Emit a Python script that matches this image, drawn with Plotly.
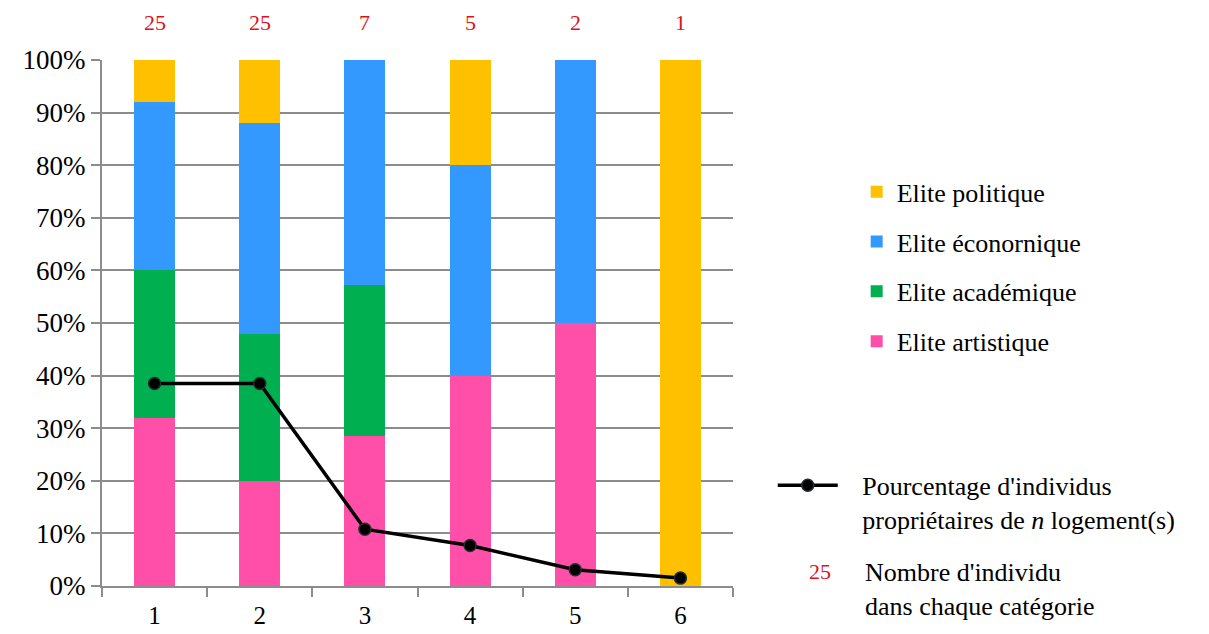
import plotly.graph_objects as go

categories = ["1", "2", "3", "4", "5", "6"]
counts = [25, 25, 7, 5, 2, 1]

artistique = [32, 20, 28.6, 40, 50, 0]
academique = [28, 28, 28.6, 0, 0, 0]
economique = [32, 40, 42.8, 40, 50, 0]
politique = [8, 12, 0, 20, 0, 100]

pct_proprietaires = [38.5, 38.5, 10.8, 7.7, 3.1, 1.5]

FONT = "Liberation Serif"
GRID = "#8c8c8c"

fig = go.Figure()

series = [
    ("Elite artistique", artistique, "#FF4FA8", 4),
    ("Elite académique", academique, "#00B050", 3),
    ("Elite éconornique", economique, "#3399FF", 2),
    ("Elite politique", politique, "#FFC000", 1),
]
for name, vals, color, rank in series:
    fig.add_trace(go.Bar(x=categories, y=vals, name=name, marker=dict(color=color, line=dict(width=0)),
                         width=0.39, legendgroup=name, legendrank=rank, legend="legend"))

pad = "&nbsp;" * 3
fig.add_trace(go.Scatter(x=categories, y=pct_proprietaires, mode="lines+markers",
                         name=pad + "Pourcentage d'individus<br>" + pad + "propriétaires de <i>n</i> logement(s)",
                         line=dict(color="black", width=3.5),
                         marker=dict(color="black", size=12, line=dict(color="#203030", width=1.5)),
                         legend="legend2"))

# sample size above each bar
for i, n in enumerate(counts):
    fig.add_annotation(x=i, y=1, xref="x", yref="paper", yanchor="middle", yshift=38,
                       text=str(n), showarrow=False, font=dict(family=FONT, size=22, color="#E0101A"))

fig.add_annotation(x=1.117, y=0.027, xref="paper", yref="paper", xanchor="left", yanchor="middle",
                   text="25", showarrow=False, font=dict(family=FONT, size=22, color="#E0101A"))
fig.add_annotation(x=1.206, y=-0.007, xref="paper", yref="paper", xanchor="left", yanchor="middle",
                   text="Nombre d'individu<br>dans chaque catégorie", align="left", showarrow=False,
                   font=dict(family=FONT, size=26, color="black"))

fig.update_layout(
    width=1201, height=626,
    margin=dict(l=94, r=476, t=52, b=48),
    barmode="stack",
    plot_bgcolor="white", paper_bgcolor="white",
    font=dict(family=FONT, size=26, color="black"),
    legend=dict(x=1.196, y=0.794, xanchor="left", yanchor="top", tracegroupgap=13,
                font=dict(family=FONT, size=26), itemwidth=30),
    legend2=dict(x=1.063, y=0.236, xanchor="left", yanchor="top", valign="top",
                 font=dict(family=FONT, size=26), itemwidth=60),
    xaxis=dict(type="category", tickson="boundaries", ticks="outside", ticklen=9, tickwidth=2,
               tickcolor=GRID, showline=True, linecolor=GRID, linewidth=2, ticklabelstandoff=6,
               showgrid=False, automargin=False, tickfont=dict(family=FONT, size=25)),
    yaxis=dict(range=[0, 100], dtick=10, ticksuffix="%", ticks="outside", ticklen=9, tickwidth=2,
               tickcolor=GRID, showline=True, linecolor=GRID, linewidth=2,
               gridcolor=GRID, gridwidth=2, zeroline=False, automargin=False,
               tickfont=dict(family=FONT, size=27)),
)

fig.write_html("out.html")
